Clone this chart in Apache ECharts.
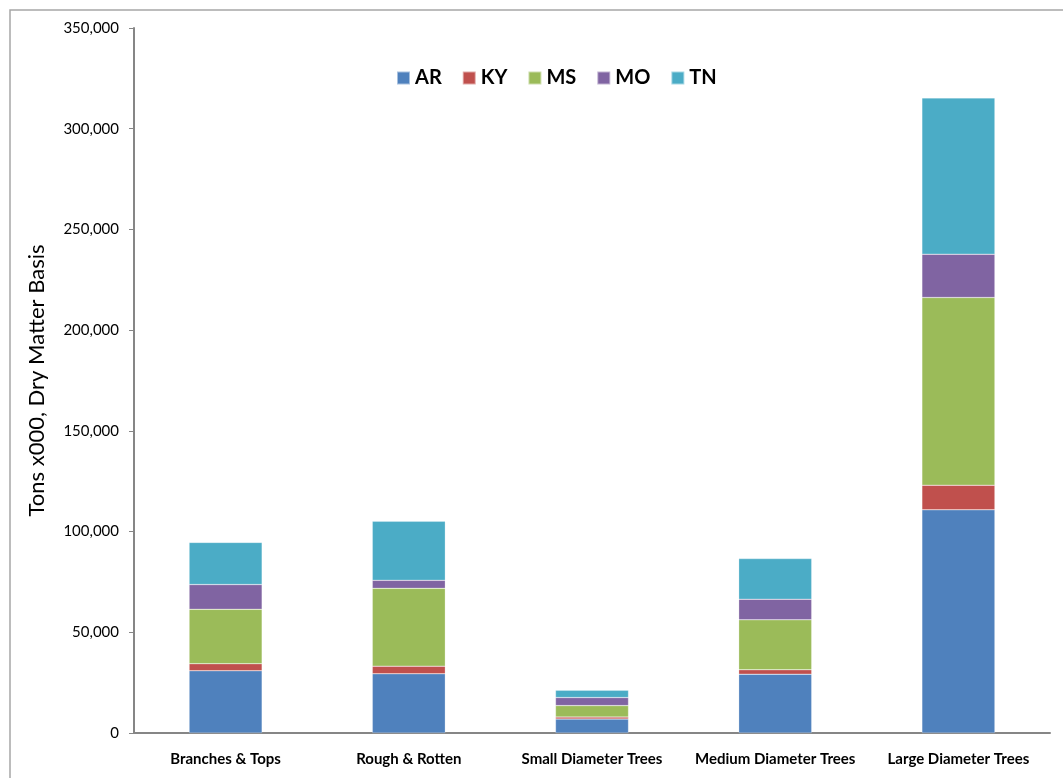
<!DOCTYPE html>
<html>
<head>
<meta charset="utf-8">
<style>
	html, body { margin: 0; padding: 0; background: #fff; }
	#main { width: 1063px; height: 778px; }
</style>
</head>
<body>
<div id="main"></div>
<script src="https://cdn.jsdelivr.net/npm/echarts@6/dist/echarts.min.js"></script>
<script>
	// 数据
	var categories = ['Branches & Tops', 'Rough & Rotten', 'Small Diameter Trees', 'Medium Diameter Trees', 'Large Diameter Trees'];
	var states = ['AR', 'KY', 'MS', 'MO', 'TN'];
	var colors = ['#4F81BD', '#C0504D', '#9BBB59', '#8064A2', '#4BACC6'];
	var arValues = [30900, 29400, 6900, 29200, 110800];
	var kyValues = [3500, 3800, 1000, 2200, 12200];
	var msValues = [27000, 38600, 5700, 24800, 93200];
	var moValues = [12300, 4000, 4000, 10200, 21500];
	var tnValues = [20900, 29300, 3600, 20200, 77600];
	var yTicks = { min: 0, max: 350000, interval: 50000 };

	var seriesData = [arValues, kyValues, msValues, moValues, tnValues];
	var font = 'Lato, "Open Sans", sans-serif';

	var myChart = echarts.init(document.getElementById('main'));

	var option = {
		animation: false,
		color: colors,
		textStyle: { fontFamily: font },
		graphic: [{
			type: 'rect',
			shape: { x: 10, y: 10, width: 1100, height: 800 },
			style: { fill: 'none', stroke: '#a6a6a6', lineWidth: 1.5 },
			silent: true
		}],
		legend: {
			data: states,
			top: 63,
			left: 391,
			itemWidth: 13,
			itemHeight: 13,
			itemGap: 20,
			icon: 'rect',
			textStyle: { fontSize: 20, fontWeight: 'bold', color: '#000', fontFamily: font }
		},
		grid: {
			left: 134,
			right: 13,
			top: 28,
			bottom: 45,
			containLabel: false
		},
		xAxis: {
			type: 'category',
			data: categories,
			axisLine: { lineStyle: { color: '#868686', width: 2 } },
			axisTick: { show: false },
			axisLabel: { fontSize: 15, fontWeight: 'bold', color: '#000', margin: 19, interval: 0, fontFamily: font }
		},
		yAxis: {
			type: 'value',
			min: yTicks.min,
			max: yTicks.max,
			interval: yTicks.interval,
			name: 'Tons x000, Dry Matter Basis',
			nameLocation: 'middle',
			nameGap: 86,
			nameTextStyle: { fontSize: 22, color: '#000', fontFamily: font },
			axisLine: { show: true, lineStyle: { color: '#868686', width: 2 } },
			axisTick: { show: true, length: 5, lineStyle: { color: '#868686' } },
			splitLine: { show: false },
			axisLabel: {
				fontSize: 15,
				color: '#000',
				margin: 15,
				fontFamily: font,
				formatter: function (v) { return v.toLocaleString('en-US'); }
			}
		},
		series: states.map(function (name, i) {
			return {
				name: name,
				type: 'bar',
				stack: 'total',
				barWidth: 73,
				data: seriesData[i],
				itemStyle: { borderColor: 'rgba(255,255,255,0.5)', borderWidth: 0.5 }
			};
		})
	};

	myChart.setOption(option);
</script>
</body>
</html>
